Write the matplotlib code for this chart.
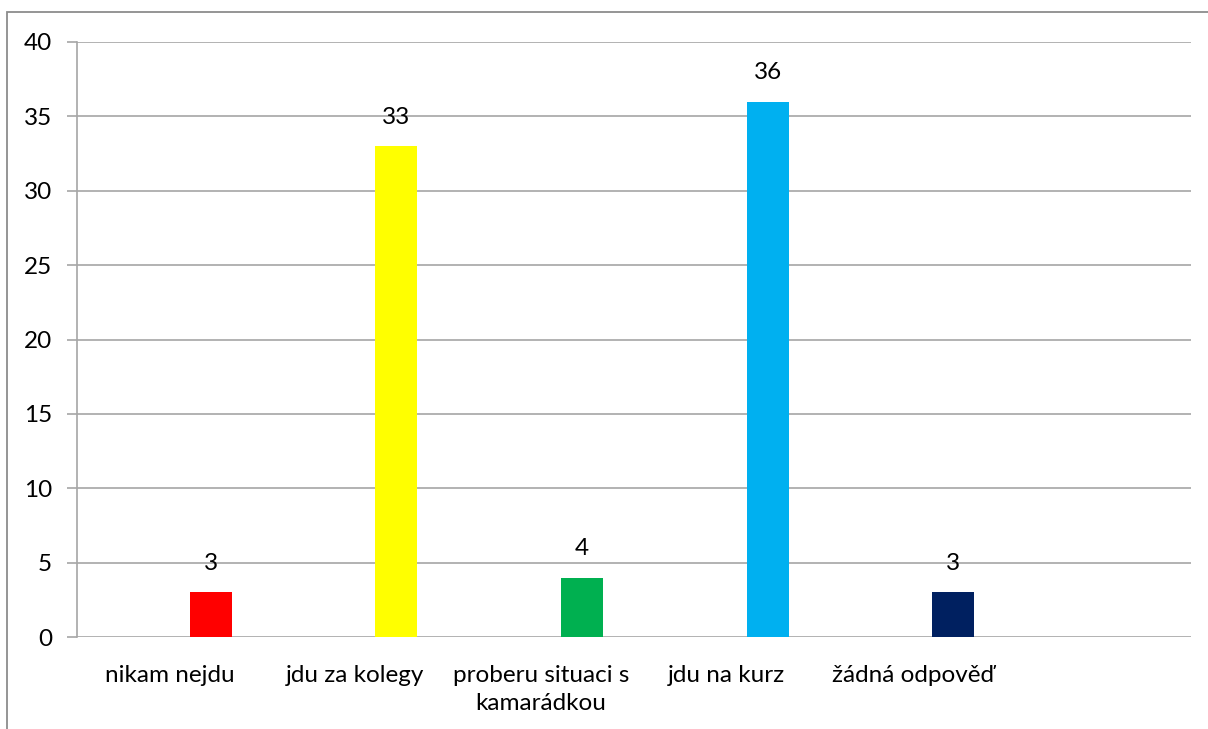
import matplotlib

matplotlib.use("Agg")
import matplotlib.pyplot as plt
from matplotlib.patches import Rectangle

CATEGORIES = ["nikam nejdu", "jdu za kolegy", "proberu situaci s\nkamarádkou",
              "jdu na kurz", "žádná odpověď"]
VALUES = [3, 33, 4, 36, 3]
COLORS = ["#ff0000", "#ffff00", "#00b050", "#00b0f0", "#002060"]
YTICKS = [0, 5, 10, 15, 20, 25, 30, 35, 40]

plt.rcParams.update({"font.family": ["Lato", "DejaVu Sans"], "font.size": 17.5})

W, H = 1208, 729
fig = plt.figure(figsize=(W / 100, H / 100), dpi=100)
ax = fig.add_axes([77 / W, 1 - 637 / H, (1191 - 77) / W, (637 - 42) / H])

# outer chart frame (only its left and top edges fall inside the image)
fig.patches.append(Rectangle((7 / W, -0.1), 1.2, 1 - 12 / H + 0.1,
                             transform=fig.transFigure, fill=False,
                             edgecolor="#8c8c8c", lw=1.3))

pos = [i + 0.72 for i in range(len(VALUES))]
bars = ax.bar(pos, VALUES, width=0.226, color=COLORS, zorder=3)
for b, v in zip(bars, VALUES):
    ax.annotate(str(v), (b.get_x() + b.get_width() / 2, v), xytext=(0, 13),
                textcoords="offset points", ha="center", va="bottom", zorder=4)

ax.set_xlim(0, 6)
ax.set_ylim(0, 40)
ax.set_yticks(YTICKS)
ax.set_xticks([i + 0.5 for i in range(len(CATEGORIES))])
ax.set_xticklabels(CATEGORIES, linespacing=1.45)
ax.yaxis.grid(True, color="#a6a6a6", lw=1.2, zorder=0)
ax.tick_params(axis="y", length=7, width=1.2, color="#a6a6a6", pad=11)
ax.tick_params(axis="x", length=0, pad=20)
for side in ["top", "right", "bottom"]:
    ax.spines[side].set_visible(False)
ax.spines["left"].set_color("#a6a6a6")
ax.spines["left"].set_linewidth(1.2)

fig.savefig("out.png", dpi=100)
